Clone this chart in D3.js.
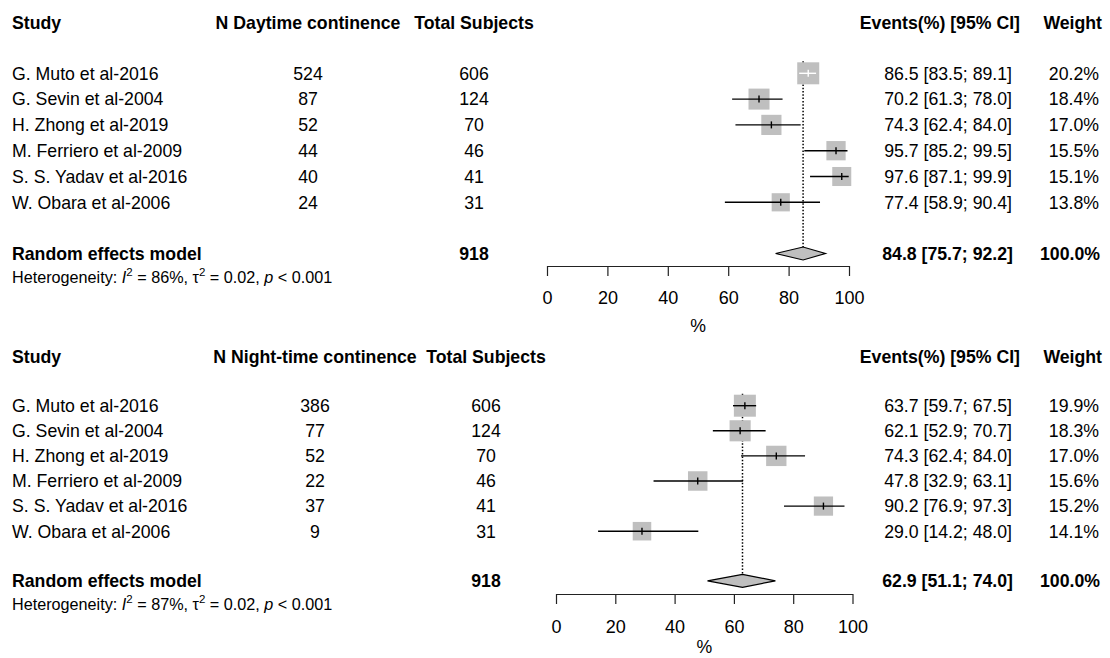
<!DOCTYPE html>
<html>
<head>
<meta charset="utf-8">
<script src="https://cdn.jsdelivr.net/npm/d3@7"></script>
<style>
  html, body { margin: 0; padding: 0; background: #fff; }
  svg { display: block; font-family: "Liberation Sans", Arial, sans-serif; }
</style>
</head>
<body>
<svg id="chart" width="1110" height="658"></svg>
<script>
// Study labels and sample sizes (shared by both outcomes)
const studies = ["G. Muto et al-2016", "G. Sevin et al-2004", "H. Zhong et al-2019",
                 "M. Ferriero et al-2009", "S. S. Yadav et al-2016", "W. Obara et al-2006"];
const totalSubjects = [606, 124, 70, 46, 41, 31];

// Daytime continence
const dayEvents = [524, 87, 52, 44, 40, 24];
const dayEst    = [86.5, 70.2, 74.3, 95.7, 97.6, 77.4];
const dayLower  = [83.5, 61.3, 62.4, 85.2, 87.1, 58.9];
const dayUpper  = [89.1, 78.0, 84.0, 99.5, 99.9, 90.4];
const dayWeight = [20.2, 18.4, 17.0, 15.5, 15.1, 13.8];
const daySummary = [84.8, 75.7, 92.2];   // estimate, lower, upper
const dayHet = [86, 0.02];               // I^2 (%), tau^2

// Night-time continence
const nightEvents = [386, 77, 52, 22, 37, 9];
const nightEst    = [63.7, 62.1, 74.3, 47.8, 90.2, 29.0];
const nightLower  = [59.7, 52.9, 62.4, 32.9, 76.9, 14.2];
const nightUpper  = [67.5, 70.7, 84.0, 63.1, 97.3, 48.0];
const nightWeight = [19.9, 18.3, 17.0, 15.6, 15.2, 14.1];
const nightSummary = [62.9, 51.1, 74.0];
const nightHet = [87, 0.02];

const axisTicks = [0, 20, 40, 60, 80, 100];
const totalN = 918;

const svg = d3.select("#chart");
const FS = 17.7;
const fmt1 = d3.format(".1f");

function drawPanel(p) {
  const g = svg.append("g");
  const x = d3.scaleLinear().domain([0, 100]).range([p.x0, p.x1]);
  const y = d3.scaleLinear().domain([0, 1]).range([p.row0, p.row0 + p.rowStep]);
  const rows = d3.range(studies.length);
  const maxW = d3.max(p.weight);
  const boxMax = 22;

  // column headers
  const head = g.append("g").attr("font-weight", "bold").attr("font-size", FS);
  head.append("text").attr("x", 12).attr("y", p.headY).text("Study");
  head.append("text").attr("x", p.nCol).attr("y", p.headY).attr("text-anchor", "middle").text(p.nTitle);
  head.append("text").attr("x", p.tCol).attr("y", p.headY).attr("text-anchor", "middle").text("Total Subjects");
  head.append("text").attr("x", 1020).attr("y", p.headY).attr("text-anchor", "end").text("Events(%) [95% CI]");
  head.append("text").attr("x", 1102).attr("y", p.headY).attr("text-anchor", "end").text("Weight");

  // study rows
  const txt = g.append("g").attr("font-size", FS);
  rows.forEach(i => {
    const yy = y(i) + 6.3;
    txt.append("text").attr("x", 12).attr("y", yy).text(studies[i]);
    txt.append("text").attr("x", p.nCol).attr("y", yy).attr("text-anchor", "middle").text(p.events[i]);
    txt.append("text").attr("x", p.tCol).attr("y", yy).attr("text-anchor", "middle").text(totalSubjects[i]);
    txt.append("text").attr("x", 1012).attr("y", yy).attr("text-anchor", "end")
      .text(`${fmt1(p.est[i])} [${fmt1(p.lower[i])}; ${fmt1(p.upper[i])}]`);
    txt.append("text").attr("x", 1099).attr("y", yy).attr("text-anchor", "end").text(fmt1(p.weight[i]) + "%");
  });

  // summary row
  const sumY = p.sumY;
  const sum = g.append("g").attr("font-weight", "bold").attr("font-size", FS);
  sum.append("text").attr("x", 12).attr("y", sumY + 6.3).text("Random effects model");
  sum.append("text").attr("x", p.tCol).attr("y", sumY + 6.3).attr("text-anchor", "middle").text(totalN);
  sum.append("text").attr("x", 1013).attr("y", sumY + 6.3).attr("text-anchor", "end")
    .text(`${fmt1(p.summary[0])} [${fmt1(p.summary[1])}; ${fmt1(p.summary[2])}]`);
  sum.append("text").attr("x", 1100).attr("y", sumY + 6.3).attr("text-anchor", "end").text("100.0%");

  // heterogeneity line
  const het = g.append("text").attr("x", 12).attr("y", sumY + 29).attr("font-size", 16.2);
  het.append("tspan").text("Heterogeneity: ");
  het.append("tspan").attr("font-style", "italic").text("I");
  het.append("tspan").attr("font-size", 11.5).attr("dy", -6.5).text("2");
  het.append("tspan").attr("dy", 6.5).text(` = ${p.het[0]}%, `);
  het.append("tspan").text("\u03C4");
  het.append("tspan").attr("font-size", 11.5).attr("dy", -6.5).text("2");
  het.append("tspan").attr("dy", 6.5).text(` = ${p.het[1].toFixed(2)}, `);
  het.append("tspan").attr("font-style", "italic").text("p");
  het.append("tspan").text(" < 0.001");

  // reference line at the pooled estimate
  g.append("line")
    .attr("x1", x(p.summary[0])).attr("x2", x(p.summary[0]))
    .attr("y1", y(0) - 12).attr("y2", sumY - 6.5)
    .attr("stroke", "#000").attr("stroke-width", 1.5).attr("stroke-dasharray", "1.5,1.8");

  // study squares, CIs and estimate ticks
  rows.forEach(i => {
    const s = boxMax * Math.sqrt(p.weight[i] / maxW);
    const cx = x(p.est[i]), cy = y(i);
    g.append("rect")
      .attr("x", cx - s / 2).attr("y", cy - s / 2).attr("width", s).attr("height", s)
      .attr("fill", "#bfbfbf");
    const inside = x(p.lower[i]) >= cx - s / 2 && x(p.upper[i]) <= cx + s / 2;
    const col = inside ? "#fff" : "#000";
    g.append("line")
      .attr("x1", x(p.lower[i])).attr("x2", x(p.upper[i]))
      .attr("y1", cy).attr("y2", cy)
      .attr("stroke", col).attr("stroke-width", 1.4);
    g.append("line")
      .attr("x1", cx).attr("x2", cx).attr("y1", cy - 3.5).attr("y2", cy + 3.5)
      .attr("stroke", col).attr("stroke-width", 1.4);
  });

  // pooled diamond
  const dh = 6.5;
  g.append("path")
    .attr("d", `M${x(p.summary[1])},${sumY} L${x(p.summary[0])},${sumY - dh} L${x(p.summary[2])},${sumY} L${x(p.summary[0])},${sumY + dh} Z`)
    .attr("fill", "#bfbfbf").attr("stroke", "#000").attr("stroke-width", 1.2);

  // x axis
  const axis = d3.axisBottom(x).tickValues(axisTicks).tickSize(10).tickPadding(p.tickPad).tickSizeOuter(0);
  const ax = g.append("g").attr("transform", `translate(0,${p.axisY})`).call(axis);
  ax.select(".domain").attr("stroke", "#222").attr("stroke-width", 1.2);
  ax.selectAll(".tick line").attr("stroke", "#222").attr("stroke-width", 1.2);
  ax.selectAll(".tick text").attr("font-size", 18).attr("font-family", "Liberation Sans, Arial, sans-serif").attr("fill", "#000");
  g.append("text").attr("x", (p.x0 + p.x1) / 2).attr("y", p.axisY + p.pctDy)
    .attr("text-anchor", "middle").attr("font-size", FS).text("%");
}

drawPanel({
  nTitle: "N Daytime continence", nCol: 308, tCol: 474,
  events: dayEvents, est: dayEst, lower: dayLower, upper: dayUpper, weight: dayWeight,
  summary: daySummary, het: dayHet,
  headY: 28.5, row0: 73.3, rowStep: 25.8, sumY: 253.5, axisY: 266, x0: 547, x1: 849,
  tickPad: 15, pctDy: 66
});

drawPanel({
  nTitle: "N Night-time continence", nCol: 315, tCol: 486,
  events: nightEvents, est: nightEst, lower: nightLower, upper: nightUpper, weight: nightWeight,
  summary: nightSummary, het: nightHet,
  headY: 362.5, row0: 405.7, rowStep: 25.1, sumY: 580.8, axisY: 594, x0: 556, x1: 852.5,
  tickPad: 16, pctDy: 59
});
</script>
</body>
</html>
